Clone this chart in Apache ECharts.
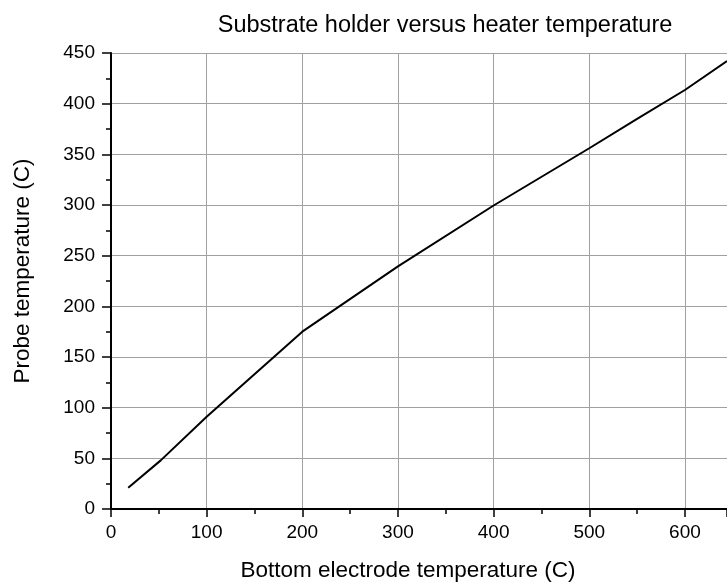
<!DOCTYPE html>
<html>
<head>
<meta charset="utf-8">
<script src="https://cdn.jsdelivr.net/npm/echarts@6/dist/echarts.min.js"></script>
<style>
  html, body { margin: 0; padding: 0; background: #fff; }
  #chart { width: 727px; height: 582px; }
</style>
</head>
<body>
<div id="chart"></div>
<script>
// bottom electrode (heater) temperature, C
var heaterTemp = [18, 52, 100, 200, 300, 400, 500, 550, 600, 644]
// probe (substrate holder) temperature, C
var probeTemp = [21, 48, 91, 175, 239.5, 299.5, 356, 385, 413.5, 442]

var points = heaterTemp.map(function (x, i) { return [x, probeTemp[i]] })

var font = 'Liberation Sans, Arial, sans-serif'
var myChart = echarts.init(document.getElementById('chart'))

myChart.setOption({
  animation: false,
  title: {
    text: 'Substrate holder versus heater temperature',
    left: 440,
    top: 9,
    textAlign: 'center',
    textStyle: { fontFamily: font, fontSize: 23.5, fontWeight: 'normal', color: '#000' }
  },
  grid: { left: 111, right: 0, top: 53, bottom: 73, outerBoundsMode: 'none' },
  xAxis: {
    type: 'value',
    min: 0,
    max: 644,
    interval: 100,
    name: 'Bottom electrode temperature (C)',
    nameLocation: 'middle',
    nameGap: 50,
    nameTextStyle: { fontFamily: font, fontSize: 22.5, color: '#000', padding: [0, 22, 0, 0] },
    axisLine: { show: true, lineStyle: { color: '#000', width: 2 } },
    axisTick: { show: true, inside: false, length: 8, lineStyle: { color: '#000', width: 1.5 } },
    minorTick: { show: true, splitNumber: 2, length: 5, lineStyle: { color: '#000', width: 1.5 } },
    axisLabel: {
      fontFamily: font, fontSize: 19, color: '#000', margin: 14,
      showMaxLabel: false
    },
    splitLine: { show: true, lineStyle: { color: '#a0a0a0', width: 1 } }
  },
  yAxis: {
    type: 'value',
    min: 0,
    max: 450,
    interval: 50,
    name: 'Probe temperature (C)',
    nameLocation: 'middle',
    nameGap: 77,
    nameTextStyle: { fontFamily: font, fontSize: 22.5, color: '#000', padding: [0, 0, 0, 20] },
    axisLine: { show: true, lineStyle: { color: '#000', width: 2 } },
    axisTick: { show: true, inside: false, length: 9, lineStyle: { color: '#000', width: 1.5 } },
    minorTick: { show: true, splitNumber: 2, length: 5, lineStyle: { color: '#000', width: 1.5 } },
    axisLabel: { fontFamily: font, fontSize: 19, color: '#000', margin: 16 },
    splitLine: { show: true, lineStyle: { color: '#a0a0a0', width: 1 } }
  },
  series: [
    {
      type: 'line',
      data: points,
      showSymbol: false,
      symbol: 'none',
      lineStyle: { color: '#000', width: 2 }
    }
  ]
})
</script>
</body>
</html>
